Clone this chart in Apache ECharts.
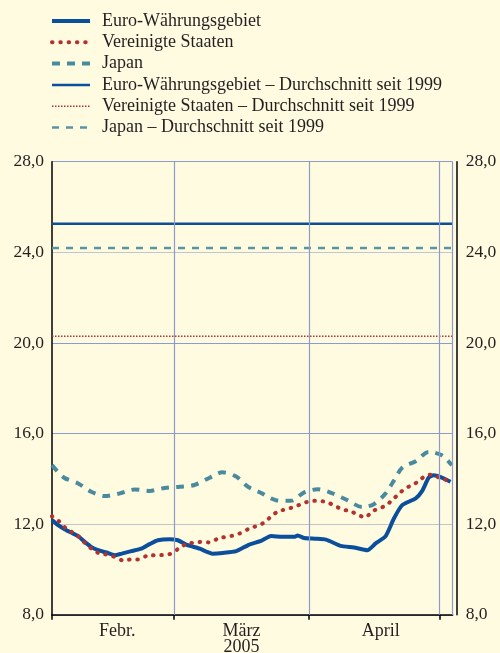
<!DOCTYPE html>
<html>
<head>
<meta charset="utf-8">
<script src="https://cdn.jsdelivr.net/npm/echarts@6/dist/echarts.min.js"></script>
<style>
  html, body { margin: 0; padding: 0; background: #fffbe0; }
  #chart { width: 500px; height: 653px; }
</style>
</head>
<body>
<div id="chart"></div>
<script>
// Tage ab 1. Februar 2005
var euroDays = [0, 1.4, 3, 4.5, 6, 7.5, 9, 10.6, 12.5, 14.4, 16, 18.2, 20.5, 22.4, 24.3, 27, 28.9,
    30.8, 33.9, 36.9, 39.2, 42.3, 45.3, 48, 50.3, 52.9, 55.6, 56.4, 57.9, 60.4, 62.9, 66.3, 69.3,
    72.4, 74.3, 76.6, 78.5, 80.4, 83.5, 85, 86.5, 87.6, 89.5, 91.5];
var euroRate = [12.18, 11.96, 11.77, 11.62, 11.47, 11.22, 11.0, 10.85, 10.75, 10.63, 10.7, 10.81, 10.92, 11.12, 11.29, 11.34, 11.29,
    11.1, 10.92, 10.7, 10.73, 10.81, 11.1, 11.26, 11.48, 11.44, 11.44, 11.5, 11.39, 11.36, 11.32, 11.04, 10.97,
    10.85, 11.15, 11.47, 12.25, 12.84, 13.14, 13.47, 14.06, 14.16, 14.06, 13.87];

var usDays = [0, 1.6, 3, 4.5, 6.2, 7.5, 9, 10.6, 12.5, 14.3, 16.1, 18.1, 20, 21.7, 23.6, 25.6, 27.4, 29.1,
    30.8, 32.7, 34.5, 36.4, 38.1, 40, 41.9, 43.6, 45.3, 47.2, 49, 50.3, 51.9, 53.7, 55.6, 57.5, 59.3, 61.1,
    63.2, 64.9, 66.7, 68.6, 70.3, 72, 73.5, 75.1, 76.8, 78.3, 79.6, 81.2, 82.8, 84.4, 85.9, 87.4, 89, 90.9];
var usRate = [12.35, 12.13, 11.85, 11.66, 11.44, 11.18, 10.93, 10.73, 10.66, 10.56, 10.41, 10.44, 10.44, 10.6, 10.63, 10.64, 10.7, 10.93,
    11.12, 11.19, 11.22, 11.19, 11.37, 11.44, 11.51, 11.63, 11.81, 11.93, 12.1, 12.35, 12.56, 12.66, 12.76, 12.91, 13.02, 13.03,
    12.97, 12.81, 12.65, 12.57, 12.4, 12.3, 12.57, 12.69, 12.84, 13.1, 13.33, 13.6, 13.72, 13.94, 14.16, 14.19, 14.04, 13.94];

var japanDays = [0, 2.7, 6, 9, 12.1, 15.6, 19, 22.4, 25.9, 29.3, 32.7, 36.2, 39.1, 42.3, 45, 48.2, 51.4,
    54.8, 57.9, 61, 64.4, 67.8, 71.2, 73.9, 76.6, 78.5, 80.4, 83.5, 86.5, 89.5, 91.8];
var japanRate = [14.61, 14.06, 13.8, 13.43, 13.24, 13.36, 13.53, 13.47, 13.6, 13.65, 13.73, 14.05, 14.29, 14.1, 13.65, 13.36, 13.06,
    13.03, 13.4, 13.54, 13.36, 13.06, 12.76, 12.88, 13.36, 13.92, 14.49, 14.78, 15.19, 15.04, 14.6];

// Durchschnitt seit 1999
var euroAvg = 25.26;
var usAvg = 20.3;
var japanAvg = 24.19;

var seriesNames = ['Euro-Währungsgebiet', 'Vereinigte Staaten', 'Japan',
    'Euro-Währungsgebiet – Durchschnitt seit 1999', 'Vereinigte Staaten – Durchschnitt seit 1999',
    'Japan – Durchschnitt seit 1999'];
var monthStarts = [0, 28, 59, 89];
var monthLabelPos = [15, 43.5, 75.5];
var monthLabels = ['Febr.', 'März\n2005', 'April'];
var xEnd = 92;

function pairs(xs, ys) {
    return xs.map(function (x, i) { return [x, ys[i]]; });
}
function flat(v) {
    return [[0, v], [xEnd, v]];
}

var blue = '#0b4f9c', red = '#b3312e', teal = '#4a8a9e', teal2 = '#5b93a6', grid = '#8d9bcc', txt = '#231f20';
var font = 'Liberation Serif';

// Linienstile: Reihen und Legende
var styles = [
    { color: blue, width: 4, type: 'solid' },
    { color: red, width: 4, type: [0.5, 7.8], cap: 'round' },
    { color: teal, width: 4, type: [8, 7] },
    { color: blue, width: 2.5, type: 'solid' },
    { color: red, width: 1.5, type: [1.5, 1.5] },
    { color: teal2, width: 2.5, type: [7, 7] }
];

var myChart = echarts.init(document.getElementById('chart'));
var option = {
    backgroundColor: '#fffbe0',
    animation: false,
    legend: {
        data: seriesNames.map(function (n, i) {
            return { name: n, lineStyle: styles[i] };
        }),
        orient: 'vertical',
        left: 50,
        top: 12,
        padding: 0,
        itemWidth: 38,
        itemHeight: 14,
        itemGap: 3.3,
        itemStyle: { opacity: 0 },
        textStyle: { fontFamily: font, fontSize: 18, color: txt, lineHeight: 18, padding: [0, 0, 0, 7] }
    },
    grid: { left: 52, right: 47.3, top: 161.7, bottom: 38.2, outerBoundsMode: 'none' },
    xAxis: {
        type: 'value', min: 0, max: xEnd,
        axisLine: { lineStyle: { color: '#000', width: 1.5 } },
        axisTick: { show: true, customValues: monthStarts, length: 5, lineStyle: { color: '#000', width: 1.5 } },
        axisLabel: {
            customValues: monthLabelPos,
            formatter: function (v) {
                var i = monthLabelPos.indexOf(v);
                return i >= 0 ? monthLabels[i] : '';
            },
            margin: 8, fontFamily: font, fontSize: 18, color: txt, lineHeight: 16, verticalAlign: 'top'
        },
        splitLine: { show: false }
    },
    yAxis: [{
        type: 'value', min: 8, max: 28, interval: 4, position: 'left',
        axisLine: { show: true, lineStyle: { color: '#000', width: 1.5 } },
        axisTick: { show: false },
        axisLabel: {
            margin: 8, fontFamily: font, fontSize: 17.5, color: txt,
            formatter: function (v) { return v.toFixed(1).replace('.', ','); }
        },
        splitLine: { show: true, lineStyle: { color: [grid, '#c4c4cc', grid, grid, '#c4c4cc', grid], width: 1.2 } }
    }, {
        type: 'value', min: 8, max: 28, interval: 4, position: 'right', offset: 4,
        axisLine: { show: true, lineStyle: { color: '#000', width: 1.5 } },
        axisTick: { show: false },
        axisLabel: {
            margin: 9, fontFamily: font, fontSize: 17.5, color: txt,
            formatter: function (v) { return v.toFixed(1).replace('.', ','); }
        },
        splitLine: { show: false }
    }],
    series: [{
        name: seriesNames[3], type: 'line', data: flat(euroAvg), symbol: 'none', silent: true,
        lineStyle: styles[3], itemStyle: { color: blue },
        markLine: {
            silent: true, symbol: 'none', label: { show: false },
            lineStyle: { color: grid, width: 1.2, type: 'solid' },
            data: monthStarts.slice(1).concat([xEnd]).map(function (d) { return { xAxis: d }; })
        }
    }, {
        name: seriesNames[4], type: 'line', data: flat(usAvg), symbol: 'none', silent: true,
        lineStyle: styles[4], itemStyle: { color: red }
    }, {
        name: seriesNames[5], type: 'line', data: flat(japanAvg), symbol: 'none', silent: true,
        lineStyle: styles[5], itemStyle: { color: teal2 }
    }, {
        name: seriesNames[2], type: 'line', data: pairs(japanDays, japanRate), symbol: 'none', smooth: 0.3,
        lineStyle: styles[2], itemStyle: { color: teal }
    }, {
        name: seriesNames[0], type: 'line', data: pairs(euroDays, euroRate), symbol: 'none', smooth: 0.2,
        lineStyle: styles[0], itemStyle: { color: blue }
    }, {
        name: seriesNames[1], type: 'line', data: pairs(usDays, usRate), symbol: 'none', smooth: 0.2,
        lineStyle: styles[1], itemStyle: { color: red }
    }]
};
myChart.setOption(option);
</script>
</body>
</html>
